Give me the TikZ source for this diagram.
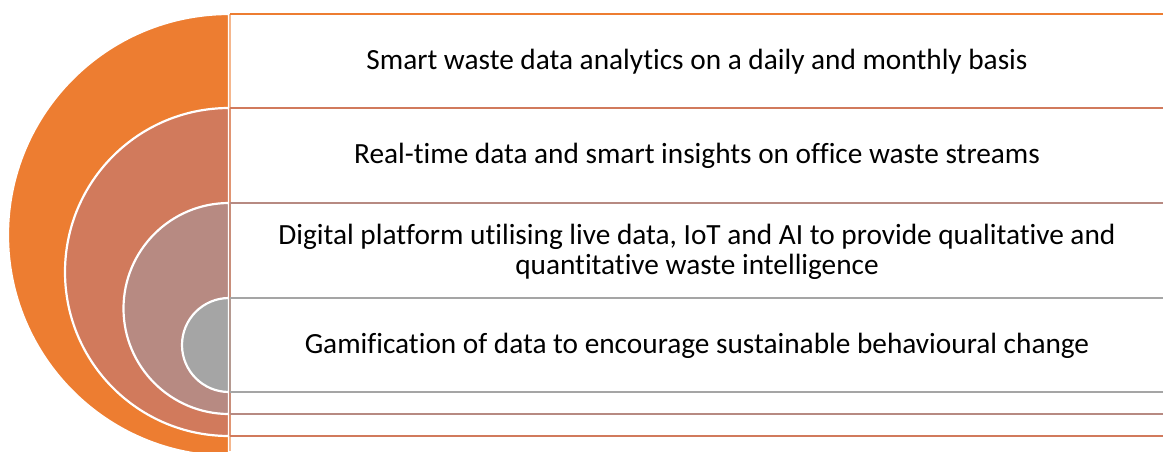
\documentclass[tikz,border=0pt]{standalone}
\usepackage{fontspec}
\setmainfont{Carlito}[Ligatures=NoCommon]
\definecolor{lvone}{HTML}{ED7D31}
\definecolor{lvtwo}{HTML}{D17A5C}
\definecolor{lvthree}{HTML}{B78A82}
\definecolor{lvfour}{HTML}{A5A5A5}
\begin{document}
\begin{tikzpicture}[x=1pt,y=-1pt,
  halfdisc/.style={draw=white,line width=2.2pt},
  band/.style={line width=2.6pt},
  edge/.style={line width=2.6pt,draw opacity=0.55},
  label/.style={font=\fontsize{29.3}{30}\selectfont,align=center,inner sep=0pt}]
\useasboundingbox (0,0) rectangle (1163,451);
\clip (0,0) rectangle (1163,451);
\fill[white] (0,0) rectangle (1163,451);
% nested half discs, largest first (y grows downwards, so 270 -> 180 -> 90 sweeps the left side)
\filldraw[halfdisc,fill=lvone]   (229,14)  arc[start angle=270,end angle=90,radius=221] -- cycle;
\filldraw[halfdisc,fill=lvtwo]   (229,108) arc[start angle=270,end angle=90,radius=164] -- cycle;
\filldraw[halfdisc,fill=lvthree] (229,203) arc[start angle=270,end angle=90,radius=105.5] -- cycle;
\filldraw[halfdisc,fill=lvfour]  (229,298) arc[start angle=270,end angle=90,radius=47] -- cycle;
% left edges of the text bands
\draw[edge,lvone]   (230,14)  -- (230,451);
\draw[edge,lvtwo]   (230,108) -- (230,436);
\draw[edge,lvthree] (230,203) -- (230,414);
\draw[edge,lvfour]  (230,298) -- (230,392);
% horizontal band borders
\coordinate (t1) at (230,14);  \coordinate (t1e) at (1163,14);
\coordinate (t2) at (230,108); \coordinate (t2e) at (1163,108);
\coordinate (t3) at (230,203); \coordinate (t3e) at (1163,203);
\coordinate (t4) at (230,298); \coordinate (t4e) at (1163,298);
\coordinate (b4) at (230,392); \coordinate (b4e) at (1163,392);
\coordinate (b3) at (230,414); \coordinate (b3e) at (1163,414);
\coordinate (b2) at (230,436); \coordinate (b2e) at (1163,436);
\draw[band,lvone]   (t1) -- (t1e);
\draw[band,lvtwo]   (t2) -- (t2e);
\draw[band,lvthree] (t3) -- (t3e);
\draw[band,lvfour]  (t4) -- (t4e);
\draw[band,lvfour]  (b4) -- (b4e);
\draw[band,lvthree] (b3) -- (b3e);
\draw[band,lvtwo]   (b2) -- (b2e);
% band texts
\node[label] (txa) at (697,62)  {Smart waste data analytics on a daily and monthly basis};
\node[label] (txb) at (697,156) {Real-time data and smart insights on office waste streams};
\node[label] (txc) at (697,252) {Digital platform utilising live data, IoT and AI to provide qualitative and\\quantitative waste intelligence};
\node[label] (txd) at (697,346) {Gamification of data to encourage sustainable behavioural change};
\end{tikzpicture}
\end{document}
